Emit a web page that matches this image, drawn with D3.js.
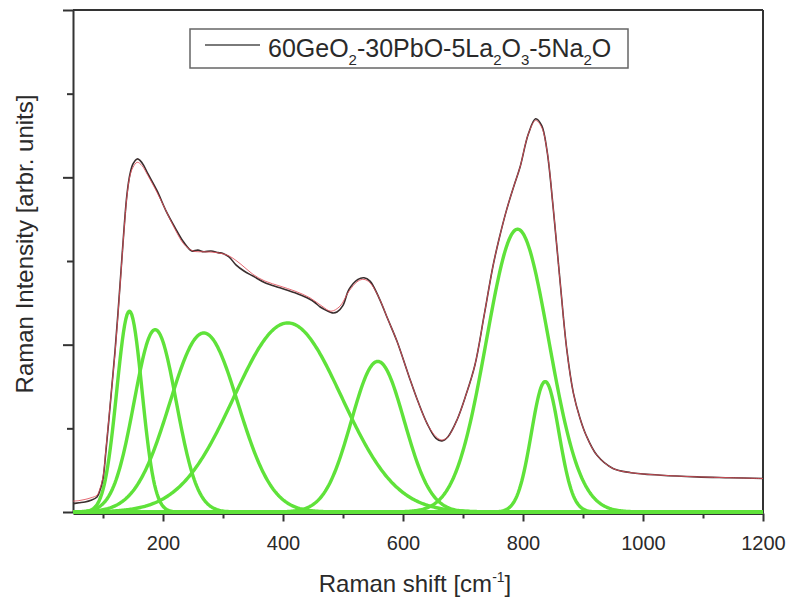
<!DOCTYPE html>
<html>
<head>
<meta charset="utf-8">
<script src="https://cdn.jsdelivr.net/npm/d3@7"></script>
<style>
  body { margin: 0; background: #fff; }
  text { font-family: "Liberation Sans", Arial, sans-serif; fill: #2a2a2a; }
</style>
</head>
<body>
<div id="chart"></div>
<script>
// fitted envelope (red)
const fitShift = [50,60,70,80,90,95,100,105,110,115,120,125,130,135,140,145,150,157,165,175,190,205,220,235,250,270,290,310,330,350,370,395,420,445,465,480,495,510,525,535,545,560,575,590,610,625,640,655,665,675,690,705,720,735,750,760,773,785,795,809,821,831,840,850,862,873,884,895,905,923,950,980,1030,1090,1145,1200];
const fitInt = [0.065,0.068,0.075,0.085,0.10,0.14,0.21,0.38,0.57,0.76,0.95,1.18,1.43,1.68,1.89,2.01,2.06,2.09,2.07,2.01,1.91,1.80,1.69,1.60,1.56,1.555,1.55,1.53,1.48,1.42,1.38,1.35,1.32,1.28,1.23,1.20,1.23,1.32,1.38,1.39,1.37,1.28,1.15,1.02,0.81,0.66,0.53,0.45,0.43,0.45,0.55,0.70,0.88,1.17,1.47,1.63,1.81,1.95,2.06,2.26,2.34,2.30,2.16,1.83,1.37,0.97,0.71,0.56,0.46,0.34,0.26,0.235,0.22,0.21,0.205,0.20];

// measured spectrum (black)
const measShift = [50,60,70,80,90,95,100,105,110,115,120,125,130,135,140,145,150,157,162,168,175,190,205,220,235,248,258,268,280,292,300,310,322,335,350,370,395,420,440,452,462,472,482,490,500,510,525,535,545,560,575,590,610,625,640,655,665,675,690,705,720,735,750,760,773,785,795,809,821,831,840,850,862,873,884,895,905,923,950,980,1030,1090,1145,1200];
const measInt = [0.05,0.055,0.06,0.07,0.09,0.13,0.20,0.37,0.56,0.76,0.96,1.19,1.44,1.69,1.90,2.02,2.08,2.11,2.10,2.07,2.02,1.92,1.80,1.70,1.61,1.56,1.565,1.555,1.56,1.55,1.545,1.525,1.475,1.44,1.41,1.37,1.34,1.31,1.28,1.255,1.225,1.205,1.19,1.195,1.235,1.33,1.39,1.40,1.38,1.28,1.15,1.02,0.81,0.66,0.53,0.44,0.425,0.45,0.55,0.70,0.88,1.17,1.47,1.63,1.81,1.95,2.06,2.26,2.35,2.31,2.16,1.83,1.37,0.97,0.71,0.56,0.46,0.34,0.26,0.235,0.22,0.21,0.205,0.20];

// fitted Gaussian components (green)
const peakCenters = [144, 187, 268, 408, 558, 791, 837];
const peakHeights = [1.20, 1.09, 1.07, 1.13, 0.90, 1.69, 0.78];
const peakSigmas  = [21, 35, 57, 90, 44, 52, 23];

const xMajorTicks = [200, 400, 600, 800, 1000, 1200];
const xMinorTicks = [100, 300, 500, 700, 900, 1100];
const yMajorTicks = [0, 1, 2, 3];
const yMinorTicks = [0.5, 1.5, 2.5];

const legendParts = [
  {t: "60GeO", sub: false}, {t: "2", sub: true}, {t: "-30PbO-5La", sub: false},
  {t: "2", sub: true}, {t: "O", sub: false}, {t: "3", sub: true},
  {t: "-5Na", sub: false}, {t: "2", sub: true}, {t: "O", sub: false}
];

const width = 788, height = 599;
const margin = {left: 73, right: 25, top: 10, bottom: 87};

const svg = d3.select("#chart").append("svg")
  .attr("width", width).attr("height", height);

const x = d3.scaleLinear().domain([50, 1200]).range([margin.left, width - margin.right]);
const y = d3.scaleLinear().domain([0, 3]).range([height - margin.bottom, margin.top]);

const axisColor = "#333";

// frame (top and right)
svg.append("line").attr("x1", x(50)).attr("x2", x(1200)).attr("y1", y(3)).attr("y2", y(3))
  .attr("stroke", axisColor).attr("stroke-width", 2);
svg.append("line").attr("x1", x(1200)).attr("x2", x(1200)).attr("y1", y(3)).attr("y2", y(0) + 1.5)
  .attr("stroke", axisColor).attr("stroke-width", 2);

// x axis
const xg = svg.append("g").attr("transform", `translate(0,${y(0) + 1.5})`);
xg.call(d3.axisBottom(x).tickValues(xMajorTicks).tickSize(8).tickSizeOuter(0).tickPadding(14).tickFormat(d3.format("d")));
const xm = svg.append("g").attr("transform", `translate(0,${y(0) + 1.5})`);
xm.call(d3.axisBottom(x).tickValues(xMinorTicks).tickSize(5).tickSizeOuter(0).tickFormat(""));
xm.select(".domain").remove();

// y axis
const yg = svg.append("g").attr("transform", `translate(${x(50)},0)`);
yg.call(d3.axisLeft(y).tickValues(yMajorTicks).tickSize(10).tickSizeOuter(0).tickFormat(""));
const ym = svg.append("g").attr("transform", `translate(${x(50)},0)`);
ym.call(d3.axisLeft(y).tickValues(yMinorTicks).tickSize(6).tickSizeOuter(0).tickFormat(""));
ym.select(".domain").remove();

svg.selectAll(".domain").attr("stroke", axisColor).attr("stroke-width", 2);
svg.selectAll(".tick line").attr("stroke", axisColor).attr("stroke-width", 2);
xg.selectAll(".tick text")
  .attr("font-size", 20).attr("fill", "#2a2a2a")
  .style("font-family", "'Liberation Sans', Arial, sans-serif");

// green components
const xs = d3.range(50, 1201, 2);
const gLine = d3.line().x(d => x(d[0])).y(d => y(d[1]));
peakCenters.forEach((c, i) => {
  const pts = xs.map(v => [v, peakHeights[i] * Math.exp(-((v - c) ** 2) / (2 * peakSigmas[i] ** 2))]);
  svg.append("path").datum(pts)
    .attr("d", gLine)
    .attr("fill", "none")
    .attr("stroke", "#5fe23a")
    .attr("stroke-width", 3.4)
    .attr("stroke-linejoin", "round");
});

// measured + fit
const measLine = d3.line().x((d, i) => x(measShift[i])).y(d => y(d)).curve(d3.curveCatmullRom);
const fitLine = d3.line().x((d, i) => x(fitShift[i])).y(d => y(d)).curve(d3.curveCatmullRom);

svg.append("path").datum(measInt).attr("d", measLine)
  .attr("fill", "none").attr("stroke", "#3a2e2e").attr("stroke-width", 1.6);
svg.append("path").datum(fitInt).attr("d", fitLine)
  .attr("fill", "none").attr("stroke", "#e0505a").attr("stroke-width", 1).attr("opacity", 0.85);

// legend
const lg = svg.append("g");
lg.append("rect").attr("x", 190).attr("y", 29).attr("width", 438).attr("height", 39)
  .attr("fill", "#fff").attr("stroke", "#666").attr("stroke-width", 1.5);
lg.append("line").attr("x1", 205).attr("x2", 260).attr("y1", 45).attr("y2", 45)
  .attr("stroke", "#7a7a7a").attr("stroke-width", 2);
const lt = lg.append("text").attr("x", 268).attr("y", 57).attr("font-size", 25);
let down = false;
legendParts.forEach(p => {
  const ts = lt.append("tspan").text(p.t).attr("font-size", p.sub ? 15 : 25);
  if (p.sub && !down) { ts.attr("dy", 8); down = true; }
  else if (!p.sub && down) { ts.attr("dy", -8); down = false; }
});

// axis titles
const xt = svg.append("text").attr("x", 415).attr("y", 592).attr("text-anchor", "middle").attr("font-size", 24);
xt.append("tspan").text("Raman shift [cm");
xt.append("tspan").text("-1").attr("font-size", 14).attr("dy", -10);
xt.append("tspan").text("]").attr("dy", 10);

svg.append("text")
  .attr("transform", "translate(33,244) rotate(-90)")
  .attr("text-anchor", "middle").attr("font-size", 24)
  .text("Raman Intensity [arbr. units]");
</script>
</body>
</html>
